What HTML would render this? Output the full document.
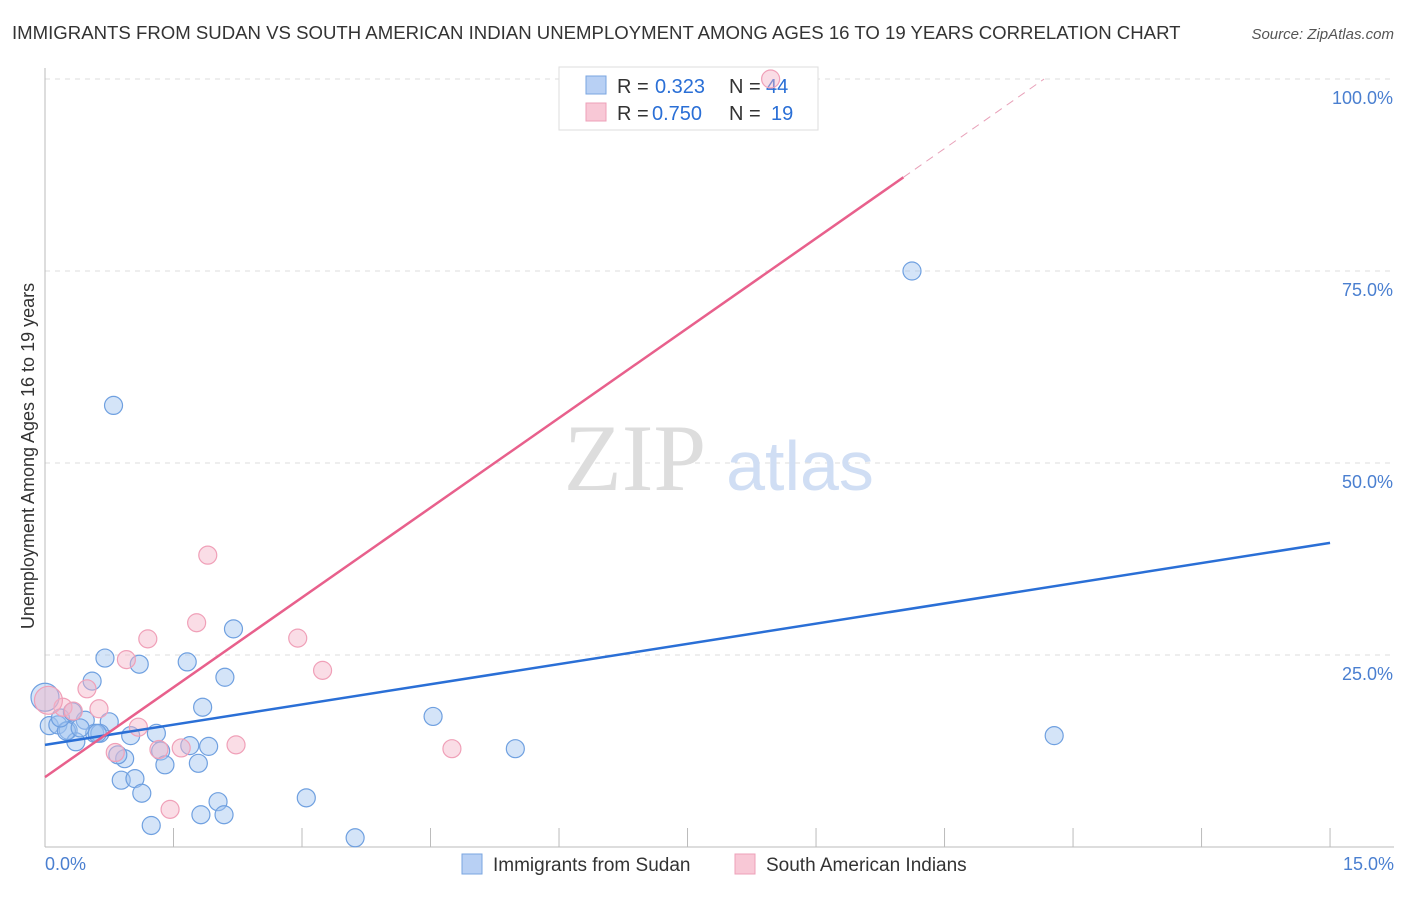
<!DOCTYPE html>
<html><head><meta charset="utf-8"><style>
body{margin:0;background:#fff;font-family:"Liberation Sans",sans-serif}
</style></head><body>
<svg width="1406" height="892" xmlns="http://www.w3.org/2000/svg">
<text x="12" y="39" font-size="18.6" fill="#333">IMMIGRANTS FROM SUDAN VS SOUTH AMERICAN INDIAN UNEMPLOYMENT AMONG AGES 16 TO 19 YEARS CORRELATION CHART</text>
<text x="1394" y="39" font-size="15" fill="#555" font-style="italic" text-anchor="end">Source: ZipAtlas.com</text>
<g id="grid"></g>
<text x="635" y="490" font-size="95" fill="#ddd" font-family="Liberation Serif,serif" text-anchor="middle">ZIP</text>
<text x="800" y="490" font-size="70" fill="#d0def4" text-anchor="middle">atlas</text>
<g>
<rect x="559" y="67" width="259" height="63" fill="#fff" stroke="#ddd"/>
<rect x="586" y="76" width="20" height="18" fill="#b8d0f4" stroke="#7aa6e0"/>
<text x="617" y="93" font-size="20" fill="#333">R =</text>
<text x="655" y="93" font-size="20" fill="#2a6fd6">0.323</text>
<text x="729" y="93" font-size="20" fill="#333">N =</text>
<text x="766" y="93" font-size="20" fill="#2a6fd6">44</text>
<rect x="586" y="103" width="20" height="18" fill="#f8c8d6" stroke="#eea0b8"/>
<text x="617" y="120" font-size="20" fill="#333">R =</text>
<text x="652" y="120" font-size="20" fill="#2a6fd6">0.750</text>
<text x="729" y="120" font-size="20" fill="#333">N =</text>
<text x="771" y="120" font-size="20" fill="#2a6fd6">19</text>
</g>
<g id="pts"></g>
<g id="lines"></g>
<text transform="translate(34,456) rotate(-90)" font-size="18" fill="#333" text-anchor="middle">Unemployment Among Ages 16 to 19 years</text>
<g>
<rect x="462" y="854" width="20" height="20" fill="#b8d0f4" stroke="#7aa6e0"/>
<text x="493" y="871" font-size="19" fill="#333">Immigrants from Sudan</text>
<rect x="735" y="854" width="20" height="20" fill="#f8c8d6" stroke="#eea0b8"/>
<text x="766" y="871" font-size="19" fill="#333">South American Indians</text>
</g>
</svg>
<script>
const xTicks=[0,1.5,3,4.5,6,7.5,9,10.5,12,13.5,15];
const yTicks=[25,50,75,100];
const sudanX=[0.8,2.2,0.7,1.1,1.66,2.1,0.55,1.84,4.53,0.75,5.49,11.78,10.12,0,0.05,0.15,0.27,0.36,0.47,0.58,0.64,1.0,1.3,1.35,1.4,0.93,0.85,1.69,1.91,1.79,0.89,1.05,1.13,1.24,1.82,2.02,2.09,3.05,3.62,0.61,0.25,0.41,0.18,0.32];
const sudanY=[57.5,28.4,24.6,23.8,24.1,22.1,21.6,18.2,17,16.3,12.8,14.5,75,19.5,15.8,15.9,15.2,13.7,16.5,14.8,14.8,14.5,14.8,12.5,10.7,11.5,12.0,13.2,13.1,10.9,8.7,8.9,7.0,2.8,4.2,5.9,4.2,6.4,1.2,14.8,15.1,15.5,16.8,17.6];
const indX=[8.47,1.9,1.2,1.77,2.95,0.95,3.24,0.49,0.63,0.21,0.33,1.09,0.82,1.33,1.59,2.23,4.75,1.46,0.04];
const indY=[100,38,27.1,29.2,27.2,24.4,23,20.6,18,18.2,17.7,15.6,12.3,12.7,12.9,13.3,12.8,4.9,19.1];
const blueLine=[13.3,39.6], pinkLine=[9.1,87.2], pinkSolidEnd=10.02;
const X=v=>45+v*85.67, Y=v=>847-v*7.68;
const NS='http://www.w3.org/2000/svg';
function mk(t,a,p){const e=document.createElementNS(NS,t);for(const k in a)e.setAttribute(k,a[k]);p.appendChild(e);return e;}
const g=document.getElementById('grid');
yTicks.forEach(v=>{const l=mk('line',{x1:45,x2:1394,y1:Y(v),y2:Y(v),stroke:'#ddd','stroke-dasharray':'5,5'},g);


const t=mk('text',{x:1393,y:Y(v)+25,'font-size':18,fill:'#4a7fd0','text-anchor':'end'},g);t.textContent=v.toFixed(1)+'%';

});
const ax=mk('line',{x1:45,x2:45,y1:68,y2:847,stroke:'#bbb'},g);


const bx=mk('line',{x1:45,x2:1394,y1:847,y2:847,stroke:'#bbb'},g);


xTicks.forEach(v=>{const l=mk('line',{x1:X(v),x2:X(v),y1:828,y2:847,stroke:'#bbb'},g);

});
[[0,'start'],[15,'end']].forEach(([v,a])=>{const t=mk('text',{x:v==0?X(v):1394,y:870,'font-size':18,fill:'#4a7fd0','text-anchor':a},g);t.textContent=v.toFixed(1)+'%';

});
const p=document.getElementById('pts');
sudanX.forEach((x,i)=>{const c=mk('circle',{cx:X(x),cy:Y(sudanY[i]),r:x==0?14:9,fill:'rgba(160,195,240,0.45)',stroke:'#6fa0e0','stroke-width':1.2},p);

});
indX.forEach((x,i)=>{const c=mk('circle',{cx:X(x),cy:Y(indY[i]),r:i==18?14:9,fill:'rgba(245,180,200,0.45)',stroke:'#f0a0b8','stroke-width':1.2},p);

});
const L=document.getElementById('lines');
const bl=mk('line',{x1:X(0),y1:Y(blueLine[0]),x2:X(15),y2:Y(blueLine[1]),stroke:'#2a6fd6','stroke-width':2.5},L);


const ps=(pinkLine[1]-pinkLine[0])/pinkSolidEnd, xe=(100-pinkLine[0])/ps;
const pl=mk('line',{x1:X(0),y1:Y(pinkLine[0]),x2:X(pinkSolidEnd),y2:Y(pinkLine[1]),stroke:'#e8608c','stroke-width':2.5},L);


const pd=mk('line',{x1:X(pinkSolidEnd),y1:Y(pinkLine[1]),x2:X(xe),y2:Y(100),stroke:'#e8a0b8','stroke-width':1,'stroke-dasharray':'8,6'},L);


</script>
</body></html>
